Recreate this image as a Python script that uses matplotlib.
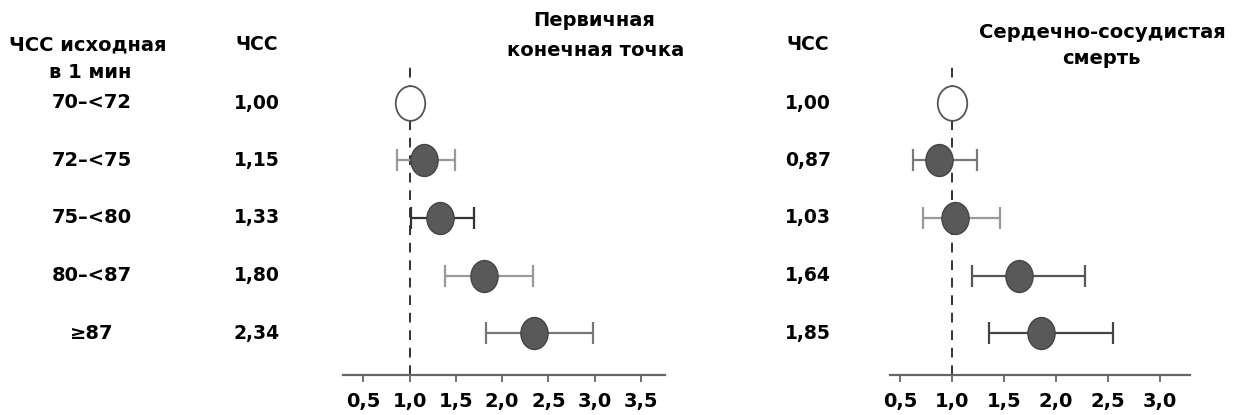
import numpy as np
import matplotlib
matplotlib.use('Agg')
import matplotlib.pyplot as plt
from matplotlib.path import Path
from matplotlib.transforms import Affine2D

plt.rcParams['font.family'] = ['DejaVu Sans']

groups = ['70–<72', '72–<75', '75–<80', '80–<87', '≥87']

hr_primary = [1.00, 1.15, 1.33, 1.80, 2.34]
lo_primary = [np.nan, 0.86, 1.01, 1.38, 1.83]
hi_primary = [np.nan, 1.49, 1.70, 2.33, 2.98]

hr_cv = [1.00, 0.87, 1.03, 1.64, 1.85]
lo_cv = [np.nan, 0.62, 0.72, 1.19, 1.35]
hi_cv = [np.nan, 1.24, 1.46, 2.28, 2.55]

ticks_primary = [0.5, 1.0, 1.5, 2.0, 2.5, 3.0, 3.5]
ticks_cv = [0.5, 1.0, 1.5, 2.0, 2.5, 3.0]

W, H = 1234, 415

# ellipse marker, a bit taller than wide
ellipse = Path.unit_circle().transformed(Affine2D().scale(0.85, 1.0))


def comma(v, fmt='{:.2f}'):
    return fmt.format(v).replace('.', ',')


def px_text(fig, x, y, s, **kw):
    kw.setdefault('ha', 'center')
    kw.setdefault('va', 'center')
    kw.setdefault('fontsize', 13.5)
    kw.setdefault('fontweight', 'bold')
    fig.text(x / W, 1 - y / H, s, **kw)


def forest(ax, hr, lo, hi, ticks, xlim, bar_colors):
    rows = np.arange(len(hr))
    ax.axvline(1.0, color='#333333', ls=(0, (5, 4)), lw=1.4, zorder=1)
    for i in rows:
        if np.isnan(lo[i]):
            continue
        ax.errorbar(hr[i], i, xerr=[[hr[i] - lo[i]], [hi[i] - hr[i]]],
                    fmt='none', ecolor=bar_colors[i], elinewidth=1.6,
                    capsize=8, capthick=1.6, zorder=2)
    # reference group: open marker
    ax.plot(hr[0], rows[0], ls='none', marker=ellipse, ms=25,
            mfc='white', mec='#555555', mew=1.3, zorder=3)
    ax.plot(hr[1:], rows[1:], ls='none', marker=ellipse, ms=23,
            mfc='#595959', mec='#444444', mew=1.0, zorder=3)
    ax.set_xlim(*xlim)
    ax.set_ylim(4.73, -0.66)
    ax.set_xticks(ticks)
    ax.set_xticklabels([comma(t, '{:.1f}') for t in ticks],
                       fontsize=14, fontweight='bold')
    ax.tick_params(axis='x', length=5, width=1.2, color='#555555', pad=7)
    ax.set_yticks([])
    for side in ['left', 'right', 'top']:
        ax.spines[side].set_visible(False)
    ax.spines['bottom'].set_color('#666666')
    ax.spines['bottom'].set_linewidth(1.6)
    ax.spines['bottom'].set_linestyle((0, (3, 1)))


fig = plt.figure(figsize=(W / 100, H / 100), dpi=100)
bottom = (H - 375) / H
height = (375 - 65) / H
ax1 = fig.add_axes([343 / W, bottom, (665 - 343) / W, height])
ax2 = fig.add_axes([890 / W, bottom, (1190 - 890) / W, height])

forest(ax1, hr_primary, lo_primary, hi_primary, ticks_primary, (0.28, 3.76),
       ['#999999', '#999999', '#333333', '#999999', '#777777'])
forest(ax2, hr_cv, lo_cv, hi_cv, ticks_cv, (0.40, 3.29),
       ['#777777', '#777777', '#999999', '#555555', '#444444'])

# header texts
px_text(fig, 88, 45, 'ЧСС исходная', fontsize=14)
px_text(fig, 90, 73, 'в 1 мин', fontsize=14)
px_text(fig, 257, 45, 'ЧСС')
px_text(fig, 808, 45, 'ЧСС')
px_text(fig, 594, 20, 'Первичная', fontsize=14)
px_text(fig, 596, 50, 'конечная точка', fontsize=14)
px_text(fig, 1102, 32, 'Сердечно-сосудистая', fontsize=14)
px_text(fig, 1101, 58, 'смерть', fontsize=14)

row_y = [103, 160, 217, 275, 333]
for y, g, a, b in zip(row_y, groups, hr_primary, hr_cv):
    px_text(fig, 92, y, g, fontsize=14)
    px_text(fig, 257, y, comma(a))
    px_text(fig, 808, y, comma(b))

fig.savefig('out.png', dpi=100)
